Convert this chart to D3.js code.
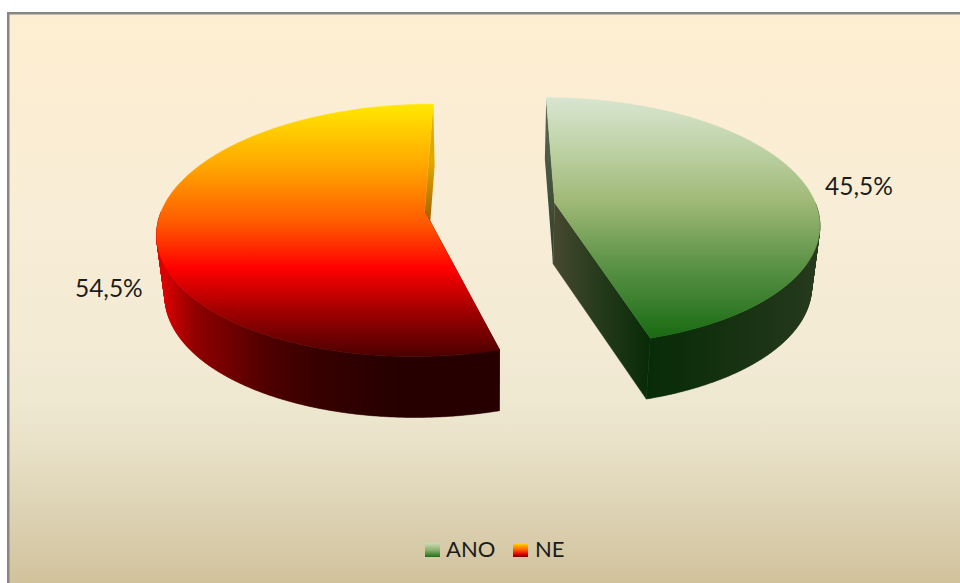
<!DOCTYPE html>
<html>
<head>
<meta charset="utf-8">
<script src="https://cdn.jsdelivr.net/npm/d3@7"></script>
<style>html,body{margin:0;padding:0;background:#fff;overflow:hidden}svg{display:block}</style>
</head>
<body>
<svg id="chart" width="960" height="583"></svg>
<script>
const categories = ["ANO", "NE"];
const values = [45.5, 54.5];

const W = 960, H = 583;
const svg = d3.select("#chart");
const defs = svg.append("defs");

function gradient(id, stops, x1, y1, x2, y2) {
  const g = defs.append("linearGradient").attr("id", id)
    .attr("gradientUnits", "userSpaceOnUse")
    .attr("x1", x1).attr("y1", y1).attr("x2", x2).attr("y2", y2);
  stops.forEach(s => g.append("stop").attr("offset", s[0]).attr("stop-color", s[1]));
  return "url(#" + id + ")";
}

// background
const bgFill = gradient("bg", [[0,"#FEEED1"],[0.35,"#F8EDD6"],[0.55,"#F4EBD5"],[0.68,"#EFE8D1"],[0.77,"#E8E0C6"],[0.86,"#DED4B6"],[1,"#D1C29C"]], 0, 14, 0, 583);
svg.append("rect").attr("x", 7).attr("y", 12).attr("width", W - 7).attr("height", H - 12).attr("fill", "#868686");
svg.append("rect").attr("x", 9.5).attr("y", 14.5).attr("width", W - 9.5).attr("height", H - 14.5).attr("fill", bgFill);

// styles per slice
const faceFill = [
  gradient("faceG", [[0,"#D9E5D0"],[0.22,"#BDD1A4"],[0.43,"#A0B977"],[0.68,"#5F9448"],[0.85,"#3A7F2E"],[1,"#186A10"]], 0, 98, 0, 338),
  gradient("faceR", [[0,"#FFE800"],[0.25,"#FFA500"],[0.47,"#FF5A00"],[0.65,"#FF0000"],[0.82,"#A00000"],[1,"#4A0000"]], 0, 104, 0, 357)
];
const outerFill = [
  gradient("outerG", [[0,"#092C08"],[0.2,"#0E2E0B"],[0.6,"#193313"],[1,"#26391C"]], 650, 0, 815, 0),
  gradient("outerR", [[0,"#D80000"],[0.09,"#900000"],[0.3,"#500000"],[0.45,"#380000"],[0.7,"#260000"],[1,"#260000"]], 165, 0, 499, 0)
];
const sideFill = [
  gradient("sideG", [[0,"#45482F"],[0.45,"#263B1C"],[1,"#082A07"]], 555, 0, 650, 0),
  "#300000"
];
const backFill = [
  gradient("backG", [[0,"#5A6A55"],[1,"#2F3F2A"]], 0, 98, 0, 262),
  gradient("backR", [[0,"#D8B000"],[0.5,"#E0A800"],[1,"#A06000"]], 0, 104, 0, 222)
];

// projection of the exploded pie disc
const X0 = 490, Y0 = 207, RX = 262, AY = 122, K = 0.15, EX = 0.248, EV = 0.035;
const DEPTH = 61, SHRINK = 0.975;

const pie = d3.pie().sort(null).value(d => d).startAngle(0).endAngle(2 * Math.PI);
const arcs = pie(values);

function project(px, pv) {
  const f = 1 / (1 - K * pv);
  return [X0 + RX * px * f, Y0 + AY * pv * f];
}
function offset(a) {
  const mid = (a.startAngle + a.endAngle) / 2;
  const sign = Math.sin(mid) >= 0 ? 1 : -1;
  return [sign * EX, -sign * EV];
}
function rim(a, t, r = 1) {
  const o = offset(a);
  return project(o[0] + r * Math.sin(t), o[1] - r * Math.cos(t));
}
function lower(p) {
  return [X0 + (p[0] - X0) * SHRINK, p[1] + DEPTH];
}
const line = d3.line().curve(d3.curveLinear);
const step = Math.PI / 360;

const g = svg.append("g");
arcs.forEach((a, i) => {
  const angles = d3.range(a.startAngle, a.endAngle, step).concat([a.endAngle]);
  const top = angles.map(t => rim(a, t));
  const tip = rim(a, 0, 0);
  const first = top[0], last = top[top.length - 1];
  const back = i === 0 ? first : last, front = i === 0 ? last : first;
  // outer wall: one quad per rim segment, only where the rim faces the viewer
  const quads = [];
  d3.pairs(angles).forEach(([t0, t1]) => {
    if (Math.cos((t0 + t1) / 2) > 0) return;
    const p0 = rim(a, t0), p1 = rim(a, t1);
    quads.push(line([p0, p1, lower(p1), lower(p0)]) + "Z");
  });
  const slice = g.append("g").attr("class", "slice-" + categories[i]);
  slice.append("path").attr("d", line([back, tip, lower(tip), lower(back)]) + "Z").attr("fill", backFill[i]);
  slice.append("path").attr("d", line([tip, front, lower(front), lower(tip)]) + "Z").attr("fill", sideFill[i])
    .attr("stroke", sideFill[i]).attr("stroke-width", 0.5);
  slice.append("path").attr("d", quads.join("")).attr("fill", outerFill[i])
    .attr("stroke", outerFill[i]).attr("stroke-width", 0.5);
  slice.append("path").attr("d", line([tip].concat(top)) + "Z").attr("fill", faceFill[i])
    .attr("stroke", faceFill[i]).attr("stroke-width", 0.6);
});

// data labels
const fmt = v => v.toFixed(1).replace(".", ",") + "%";
const labelShift = [[53, 3], [-48, 62]];
const FONT = "Lato, 'Open Sans', sans-serif";
arcs.forEach((a, i) => {
  const p = rim(a, (a.startAngle + a.endAngle) / 2);
  svg.append("text")
    .attr("x", p[0] + labelShift[i][0]).attr("y", p[1] + labelShift[i][1])
    .attr("text-anchor", "middle").attr("dominant-baseline", "middle")
    .attr("font-family", FONT).attr("font-size", 24.5).attr("fill", "#1c1c1c")
    .text(fmt(values[i]));
});

// legend
const legendX = d3.scaleOrdinal().domain(categories).range([425, 513]);
const legendFill = [
  gradient("legG", [[0,"#C8DCB8"],[0.5,"#8FB070"],[1,"#1E7016"]], 0, 543, 0, 557),
  gradient("legR", [[0,"#FFE000"],[0.5,"#FF5A00"],[0.8,"#E00000"],[1,"#700000"]], 0, 543, 0, 557)
];
categories.forEach((c, i) => {
  svg.append("rect").attr("x", legendX(c)).attr("y", 543).attr("width", 15).attr("height", 14).attr("fill", legendFill[i]);
  svg.append("text").attr("x", legendX(c) + 21 + i).attr("y", 557)
    .attr("font-family", FONT).attr("font-size", 22).attr("fill", "#1c1c1c").text(c);
});
</script>
</body>
</html>
